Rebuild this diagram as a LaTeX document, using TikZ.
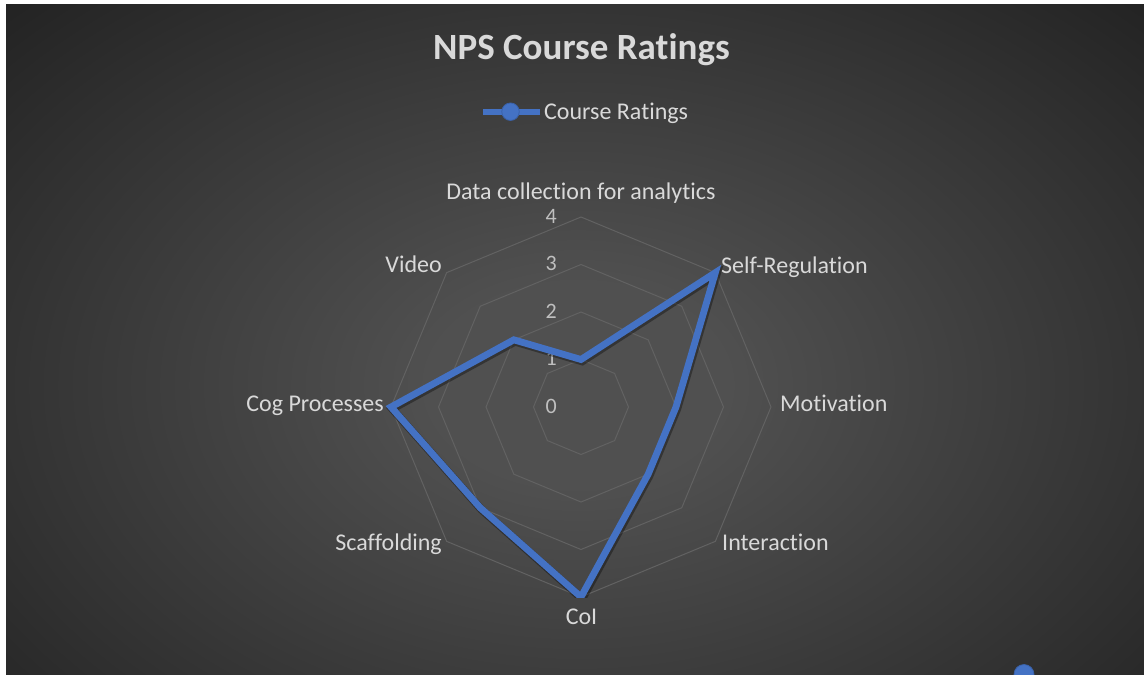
\documentclass[tikz,border=0pt]{standalone}
\usepackage{fontspec}
\setmainfont{Carlito}[Ligatures=NoCommon]
\definecolor{bgin}{HTML}{505050}
\definecolor{bgout}{HTML}{222222}
\definecolor{txt}{HTML}{D9D9D9}
\definecolor{numc}{HTML}{BFBFBF}
\definecolor{gridc}{HTML}{626262}
\definecolor{serblue}{HTML}{4472C4}
\pgfdeclareradialshading{bgrad}{\pgfpoint{0bp}{0bp}}{color(0bp)=(bgin); color(6bp)=(bgin); color(33bp)=(bgout); color(50bp)=(bgout)}
\tikzset{
  gridline/.style={draw=gridc, line width=1pt, line join=miter},
  series/.style={draw=serblue, line width=6.8pt, line join=miter, miter limit=10},
  shadowline/.style={draw=black, opacity=0.35, line width=8pt, line join=miter, miter limit=10},
  axlabel/.style={text=txt, inner sep=0pt, font=\fontsize{24}{28}\selectfont},
  numlabel/.style={text=numc, inner sep=0pt, font=\fontsize{22}{26}\selectfont},
  titlelabel/.style={text=txt, inner sep=0pt, font=\fontsize{37}{44}\selectfont\bfseries},
  marker/.style={circle, fill=serblue, draw=serblue!85!black, line width=0.8pt, inner sep=0pt, minimum size=17.5pt}
}
\begin{document}
\begin{tikzpicture}[x=1pt,y=-1pt]
\useasboundingbox (0,0) rectangle (1144,675);
\fill[white] (0,0) rectangle (1144,675);
\begin{scope}
  \clip (6,4) rectangle (1144,674);
  \shade[shading=bgrad] (-42,-35) rectangle (1198,805);
\end{scope}

% title and legend
\node[titlelabel, anchor=base] (title) at (581.5,59.3) {NPS Course Ratings};
\coordinate (lg1) at (483,111.7);
\coordinate (lg2) at (540,111.7);
\draw[draw=serblue, line width=6pt] (lg1) -- (lg2);
\node[marker] (lgm) at (510.5,111.7) {};
\node[axlabel, anchor=base west] (lgtext) at (544,119.3) {Course Ratings};

% grid
\begin{scope}[shift={(581,407)}]
  \foreach \r in {47.5,95,142.5,190}{
    \draw[gridline] (-90:\r) -- (-45:\r) -- (0:\r) -- (45:\r) -- (90:\r) -- (135:\r) -- (180:\r) -- (225:\r) -- cycle;
  }
  \coordinate (p0) at (-90:47.5);
  \coordinate (p1) at (-45:190);
  \coordinate (p2) at (0:95);
  \coordinate (p3) at (45:95);
  \coordinate (p4) at (90:190);
  \coordinate (p5) at (135:142.5);
  \coordinate (p6) at (180:190);
  \coordinate (p7) at (225:95);
\end{scope}

% value labels
\node[numlabel, anchor=base east] (n0) at (557,413.3) {0};
\node[numlabel, anchor=base east] (n1) at (557,365.8) {1};
\node[numlabel, anchor=base east] (n2) at (557,318.3) {2};
\node[numlabel, anchor=base east] (n3) at (557,270.8) {3};
\node[numlabel, anchor=base east] (n4) at (557,223.3) {4};

% series
\begin{scope}
  \clip (0,0) rectangle (1144,597.5);
  \draw[shadowline, transform canvas={shift={(1.2,1.8)}}] (p0) -- (p1) -- (p2) -- (p3) -- (p4) -- (p5) -- (p6) -- (p7) -- cycle;
  \draw[series] (p0) -- (p1) -- (p2) -- (p3) -- (p4) -- (p5) -- (p6) -- (p7) -- cycle;
\end{scope}

% category labels
\node[axlabel, anchor=base] (l0) at (581,199.5) {Data collection for analytics};
\node[axlabel, anchor=base west] (l1) at (721,273.3) {Self-Regulation};
\node[axlabel, anchor=base west] (l2) at (780,411.7) {Motivation};
\node[axlabel, anchor=base west] (l3) at (722,550.7) {Interaction};
\node[axlabel, anchor=base] (l4) at (581.5,624.3) {CoI};
\node[axlabel, anchor=base east] (l5) at (442,550.7) {Scaffolding};
\node[axlabel, anchor=base east] (l6) at (384,411.7) {Cog Processes};
\node[axlabel, anchor=base east] (l7) at (442,272.7) {Video};

% stray marker at the bottom edge
\begin{scope}
  \clip (6,4) rectangle (1144,675);
  \node[marker, minimum size=20pt] (stray) at (1024,674.5) {};
\end{scope}
\end{tikzpicture}
\end{document}
